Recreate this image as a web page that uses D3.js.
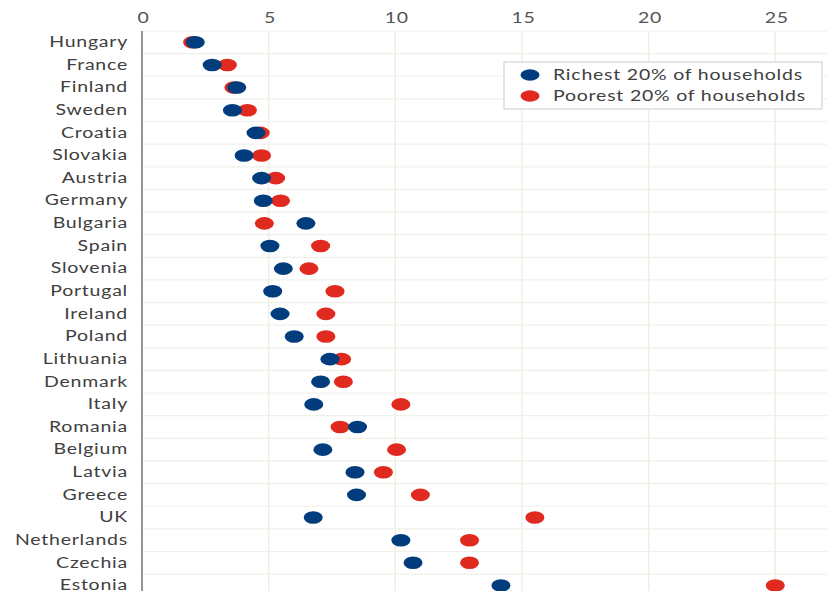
<!DOCTYPE html>
<html>
<head>
<script src="https://d3js.org/d3.v7.min.js"></script>
<style>
  body { margin: 0; background: #fff; }
  text { font-family: Lato, "Open Sans", sans-serif; letter-spacing: 0.6px; }
</style>
</head>
<body>
<div id="chart"></div>
<script>
var width = 827;
var height = 591;

// countries, top to bottom
var countries = ["Hungary", "France", "Finland", "Sweden", "Croatia", "Slovakia", "Austria",
  "Germany", "Bulgaria", "Spain", "Slovenia", "Portugal", "Ireland", "Poland", "Lithuania",
  "Denmark", "Italy", "Romania", "Belgium", "Latvia", "Greece", "UK", "Netherlands",
  "Czechia", "Estonia"];

var richest = [2.1, 2.77, 3.74, 3.57, 4.5, 4.03, 4.72, 4.79, 6.47, 5.05, 5.58, 5.16, 5.45,
  6.01, 7.42, 7.05, 6.78, 8.51, 7.14, 8.41, 8.47, 6.76, 10.22, 10.7, 14.17];

var poorest = [2.0, 3.37, 3.63, 4.16, 4.67, 4.72, 5.28, 5.47, 4.83, 7.05, 6.59, 7.62, 7.26,
  7.26, 7.88, 7.95, 10.22, 7.82, 10.05, 9.53, 10.99, 15.51, 12.93, 12.93, 25.0];

var xTicks = [0, 5, 10, 15, 20, 25];

var seriesNames = ["Richest 20% of households", "Poorest 20% of households"];
var colors = { rich: "#013d7d", poor: "#e12a1f" };

var sx = 1.3; // horizontal stretch of the original rendering

var svg = d3.select("#chart")
  .append("svg")
  .attr("width", width)
  .attr("height", height);

var x = d3.scaleLinear()
  .domain([0, 27])
  .range([142, 142 + 27 * 25.33]);

var y = d3.scaleBand()
  .domain(countries)
  .range([31, 31 + 25 * 22.63]);

// vertical grid
svg.append("g")
  .selectAll("line")
  .data(xTicks.filter(function (d) { return d > 0; }))
  .enter().append("line")
  .attr("x1", function (d) { return x(d); })
  .attr("x2", function (d) { return x(d); })
  .attr("y1", y.range()[0])
  .attr("y2", height)
  .style("stroke", "#efeee4")
  .style("stroke-width", 1.5);

// horizontal grid between rows
svg.append("g")
  .selectAll("line")
  .data(countries)
  .enter().append("line")
  .attr("x1", x(0))
  .attr("x2", width)
  .attr("y1", function (d) { return y(d); })
  .attr("y2", function (d) { return y(d); })
  .style("stroke", "#f1f0e8")
  .style("stroke-width", 1.2);

// axis line
svg.append("line")
  .attr("x1", x(0)).attr("x2", x(0))
  .attr("y1", y.range()[0]).attr("y2", height)
  .style("stroke", "#7a7a7a")
  .style("stroke-width", 1.6);

// tick labels on top
svg.append("g")
  .selectAll("text")
  .data(xTicks)
  .enter().append("text")
  .attr("transform", function (d) { return "translate(" + (x(d) + 1.5) + ",17.5) scale(" + sx + ",1)"; })
  .attr("text-anchor", "middle")
  .attr("dy", "0.35em")
  .style("font-size", "15px")
  .style("fill", "#555")
  .text(function (d) { return d; });

// country labels
svg.append("g")
  .selectAll("text")
  .data(countries)
  .enter().append("text")
  .attr("transform", function (d) { return "translate(128," + (y(d) + y.bandwidth() / 2 - 0.5) + ") scale(" + sx + ",1)"; })
  .attr("text-anchor", "end")
  .attr("dy", "0.35em")
  .style("font-size", "15px")
  .style("fill", "#404040")
  .text(function (d) { return d; });

// dots: poorest first, richest on top
var rows = countries.map(function (c, i) { return { c: c, rich: richest[i], poor: poorest[i] }; });

svg.append("g")
  .selectAll("ellipse")
  .data(rows)
  .enter().append("ellipse")
  .attr("cx", function (d) { return x(d.poor); })
  .attr("cy", function (d) { return y(d.c) + y.bandwidth() / 2; })
  .attr("rx", 9.5)
  .attr("ry", 6.3)
  .style("fill", colors.poor);

svg.append("g")
  .selectAll("ellipse")
  .data(rows)
  .enter().append("ellipse")
  .attr("cx", function (d) { return x(d.rich); })
  .attr("cy", function (d) { return y(d.c) + y.bandwidth() / 2; })
  .attr("rx", 9.5)
  .attr("ry", 6.3)
  .style("fill", colors.rich);

// legend
var legend = svg.append("g").attr("transform", "translate(504,62)");
legend.append("rect")
  .attr("width", 318)
  .attr("height", 47)
  .style("fill", "#fff")
  .style("stroke", "#d4d4d4")
  .style("stroke-width", 1.2);

var items = legend.selectAll("g.item")
  .data(seriesNames)
  .enter().append("g")
  .attr("class", "item")
  .attr("transform", function (d, i) { return "translate(0," + (13 + i * 21) + ")"; });

items.append("ellipse")
  .attr("cx", 26)
  .attr("cy", 0)
  .attr("rx", 9.5)
  .attr("ry", 5.8)
  .style("fill", function (d, i) { return i === 0 ? colors.rich : colors.poor; });

items.append("text")
  .attr("transform", "translate(49,0) scale(" + sx + ",1)")
  .attr("dy", "0.35em")
  .style("font-size", "15px")
  .style("fill", "#404040")
  .text(function (d) { return d; });
</script>
</body>
</html>
